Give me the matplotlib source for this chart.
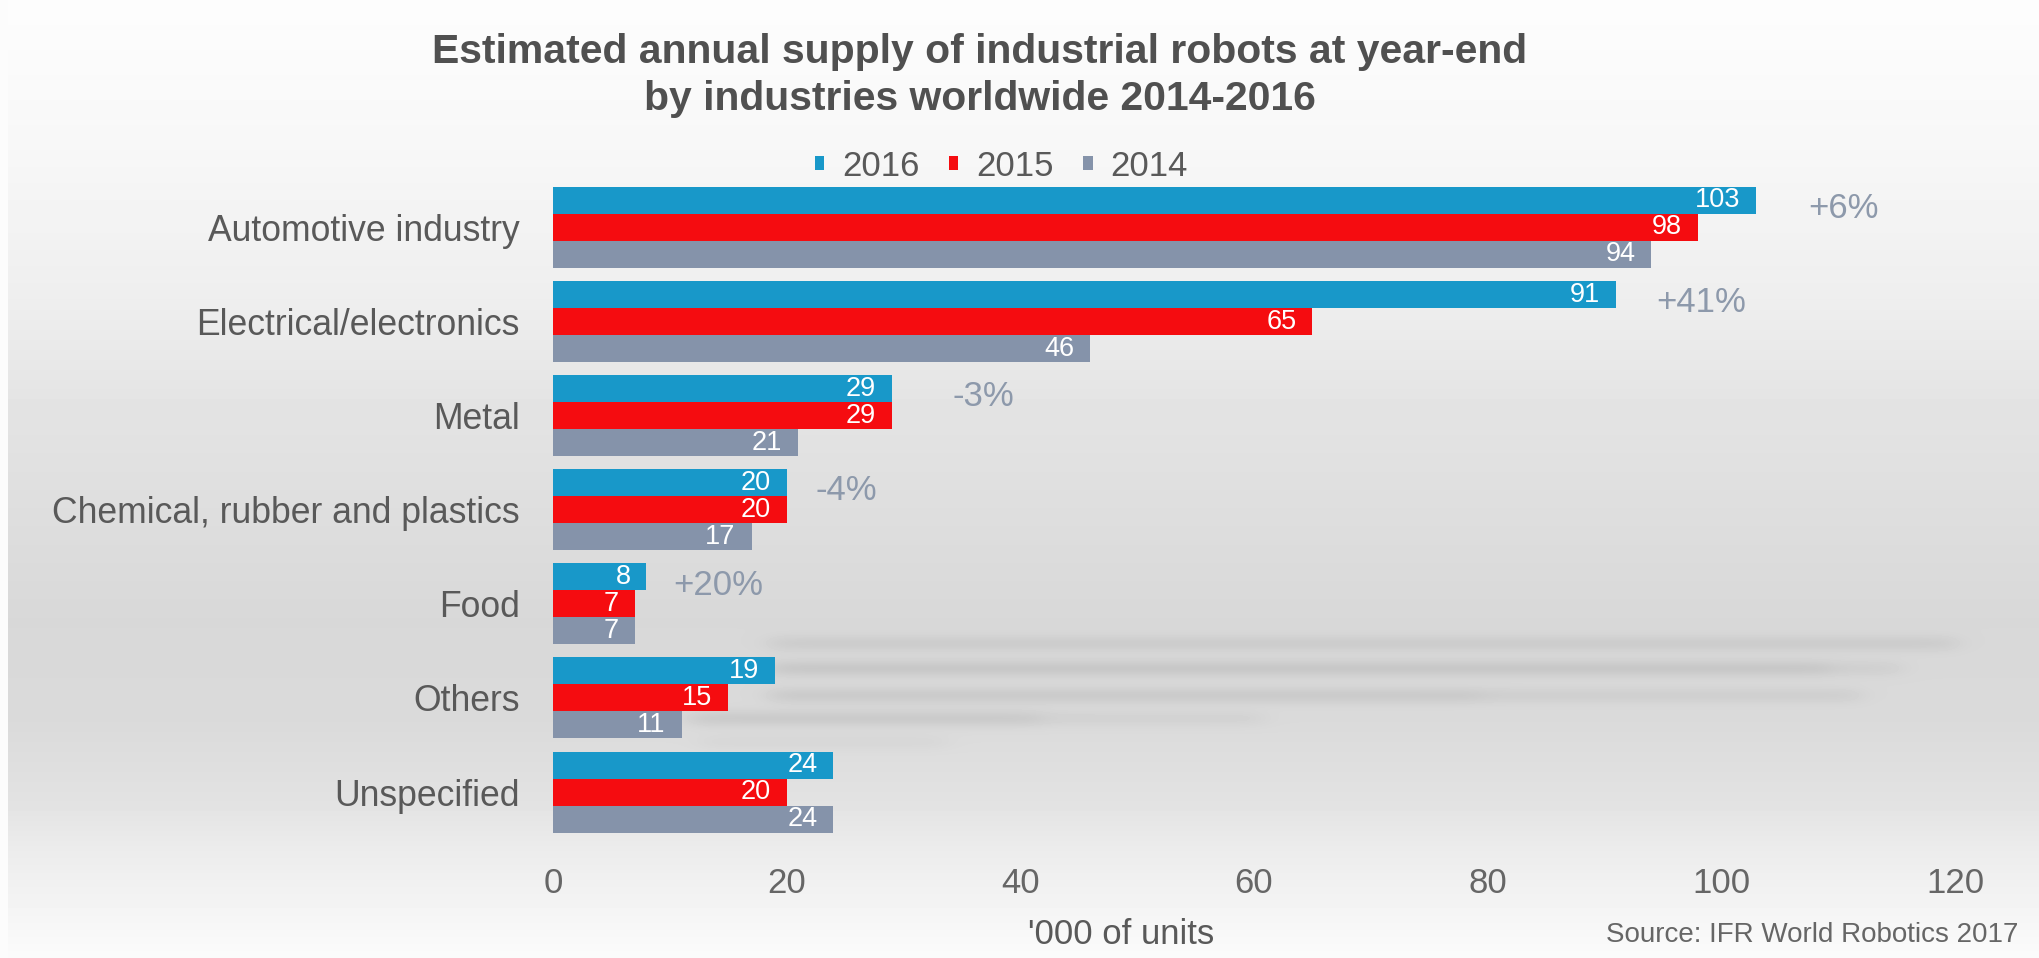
import numpy as np
import matplotlib
matplotlib.use('Agg')
import matplotlib.pyplot as plt

plt.rcParams['font.family'] = ['Liberation Sans', 'DejaVu Sans']

# data, thousands of units
industries = ['Automotive industry', 'Electrical/electronics', 'Metal',
              'Chemical, rubber and plastics', 'Food', 'Others', 'Unspecified']
supply2016 = [103, 91, 29, 20, 8, 19, 24]
supply2015 = [98, 65, 29, 20, 7, 15, 20]
supply2014 = [94, 46, 21, 17, 7, 11, 24]
growth = ['+6%', '+41%', '-3%', '-4%', '+20%']
years = ['2016', '2015', '2014']
xticks = [0, 20, 40, 60, 80, 100, 120]

# layout bits
growthPad = [4.4, 3.4, 5.2, 2.5, 2.3]
blue = '#1898c9'
red = '#f50c10'
grey = '#8593aa'

W, H = 2040, 958
fig = plt.figure(figsize=(W / 100, H / 100), dpi=100)

# backdrop: white at the top and bottom, grey in the middle
rows = np.arange(H)
stops_y = [0, 150, 300, 400, 620, 720, 800, 850, 958]
stops_g = [253, 247, 238, 228, 216, 218, 226, 236, 251]
col = np.interp(rows, stops_y, stops_g)
bg = np.repeat(col[:, None], W, axis=1)
bg[:, :8] = 252

# soft smeared streaks to the right of the lower bars
xx = np.arange(W)[None, :]
yy = rows[:, None]
streaks = [(643, 770, 1955, 12), (668, 770, 1830, 17), (668, 1830, 1900, 9),
           (695, 770, 1480, 15), (695, 1480, 1860, 10), (718, 690, 1040, 15),
           (718, 1040, 1262, 7), (742, 700, 945, 5)]
for yc, x0, x1, depth in streaks:
    vert = np.exp(-(yy - yc) ** 2 / (2 * 6.0 ** 2))
    horiz = 1 / (1 + np.exp(-(xx - x0) / 8.0)) * 1 / (1 + np.exp((xx - x1) / 8.0))
    bg = bg - depth * vert * horiz

bgAx = fig.add_axes([0, 0, 1, 1])
bgAx.imshow(bg, cmap='gray', vmin=0, vmax=255, aspect='auto', interpolation='bilinear')
bgAx.axis('off')

# main axes, 0..120 spans x 553..1955 px
axTop, axBot = 171.0, 848.5
ax = fig.add_axes([553 / W, 1 - axBot / H, (1955 - 553) / W, (axBot - axTop) / H])
ax.patch.set_alpha(0)

y = np.arange(len(industries))
h = 0.287
b16 = ax.barh(y - h, supply2016, height=h, color=blue, label=years[0])
b15 = ax.barh(y, supply2015, height=h, color=red, label=years[1])
b14 = ax.barh(y + h, supply2014, height=h, color=grey, label=years[2])

for bars, vals in [(b16, supply2016), (b15, supply2015), (b14, supply2014)]:
    for rect, v in zip(bars, vals):
        ax.annotate(str(v), (v, rect.get_y() + rect.get_height() / 2),
                    xytext=(-11.5, 0), textcoords='offset points',
                    ha='right', va='center', color='white', fontsize=19.5)

for i, g in enumerate(growth):
    top = max(supply2016[i], supply2015[i], supply2014[i])
    ax.text(top + growthPad[i], i - 0.2, g, ha='left', va='center',
            color='#8d99ab', fontsize=25)

ax.set_xlim(0, 120)
ax.set_ylim(len(industries) - 0.4, -0.6)
ax.set_xticks(xticks)
ax.set_xticklabels([str(t) for t in xticks])
ax.set_yticks(y)
ax.set_yticklabels(industries)
ax.tick_params(axis='x', length=0, pad=13, labelsize=25, labelcolor='#666666')
ax.tick_params(axis='y', length=0, pad=24, labelsize=25.6, labelcolor='#595959')
for s in ax.spines.values():
    s.set_visible(False)

ax.legend(handles=[b16, b15, b14], ncol=3, loc='center',
          bbox_to_anchor=(1001 / W, 1 - 166 / H), bbox_transform=fig.transFigure,
          frameon=False, fontsize=25, labelcolor='#595959',
          handlelength=0.28, handleheight=0.28, handletextpad=0.5,
          columnspacing=0.85, borderpad=0)

fig.text(980 / W, 1 - 63 / H, 'Estimated annual supply of industrial robots at year-end',
         ha='center', va='baseline', fontsize=29.4, fontweight='bold', color='#505050')
fig.text(980 / W, 1 - 110 / H, 'by industries worldwide 2014-2016',
         ha='center', va='baseline', fontsize=29.4, fontweight='bold', color='#505050')
fig.text(1121 / W, 1 - 935 / H, "'000 of units", ha='center', va='center',
         fontsize=25, color='#595959')
fig.text(2018 / W, 1 - 935 / H, 'Source: IFR World Robotics 2017', ha='right',
         va='center', fontsize=20, color='#666666')

fig.savefig('out.png', dpi=100)
